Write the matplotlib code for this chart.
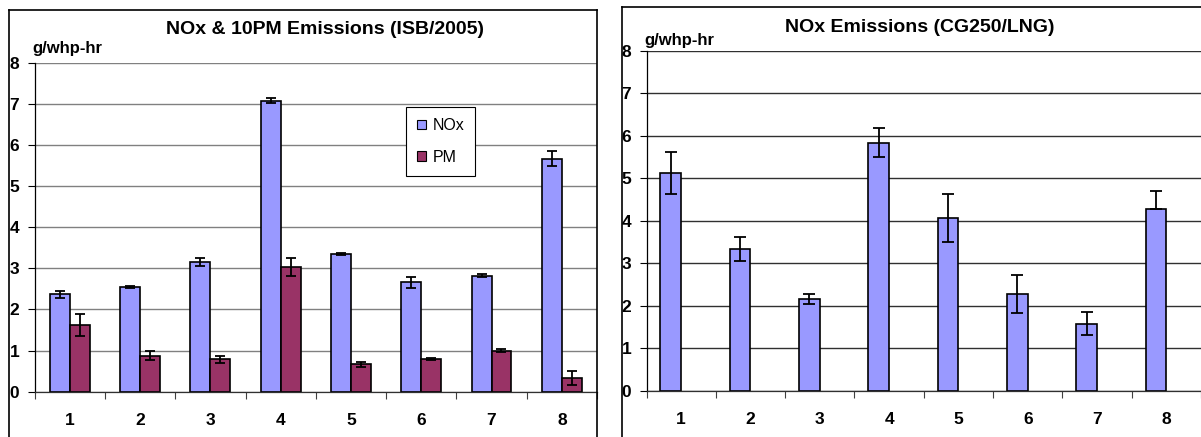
import matplotlib
matplotlib.use('Agg')
import matplotlib.pyplot as plt
from matplotlib.lines import Line2D
import numpy as np

plt.rcParams['font.family'] = ['Liberation Sans', 'DejaVu Sans']

# left chart: ISB/2005
cats = [1, 2, 3, 4, 5, 6, 7, 8]
nox_isb = [2.37, 2.54, 3.15, 7.08, 3.35, 2.66, 2.82, 5.67]
nox_isb_err = [0.08, 0.02, 0.09, 0.06, 0.02, 0.13, 0.04, 0.18]
pm_isb = [1.62, 0.88, 0.79, 3.03, 0.67, 0.80, 1.00, 0.33]
pm_isb_err = [0.27, 0.11, 0.08, 0.22, 0.06, 0.02, 0.03, 0.17]

# right chart: CG250/LNG
nox_cg = [5.12, 3.34, 2.17, 5.84, 4.07, 2.29, 1.58, 4.27]
nox_cg_err_lo = [0.50, 0.28, 0.12, 0.33, 0.57, 0.45, 0.26, 0.0]
nox_cg_err_hi = [0.51, 0.28, 0.12, 0.35, 0.57, 0.44, 0.27, 0.44]

yticks = [0, 1, 2, 3, 4, 5, 6, 7, 8]

c_nox = '#9999FF'
c_pm = '#993366'

W, H = 1201, 437
fig = plt.figure(figsize=(W / 100, H / 100), dpi=100)


def px(x0, y0, x1, y1):
    # pixel box -> figure fraction rect
    return [x0 / W, 1 - y1 / H, (x1 - x0) / W, (y1 - y0) / H]


def style_axes(ax, gridcol):
    ax.set_xlim(0.5, 8.5)
    ax.set_ylim(0, 8)
    ax.set_yticks(yticks)
    ax.set_xticks(cats)
    ax.set_xticks(np.arange(0.5, 8.6, 1), minor=True)
    ax.tick_params(axis='x', which='major', length=0, pad=15, labelsize=12.5)
    ax.tick_params(axis='x', which='minor', length=5, width=0.8, direction='out', color='#404040')
    ax.tick_params(axis='y', length=5, width=0.8, pad=6, labelsize=12.5)
    for lab in ax.get_xticklabels() + ax.get_yticklabels():
        lab.set_fontweight('bold')
    for s in ['top', 'right']:
        ax.spines[s].set_visible(False)
    ax.spines['left'].set_linewidth(0.9)
    ax.spines['bottom'].set_linewidth(0.9)
    ax.spines['bottom'].set_color('#303030')
    ax.yaxis.grid(True, color=gridcol, linewidth=1.0)
    ax.set_axisbelow(True)
    ax.patch.set_alpha(0)


# frames
fig.add_artist(Line2D([8.5 / W, 8.5 / W], [0, 1 - 10 / H], color='black', lw=1.2))
fig.add_artist(Line2D([8.5 / W, 597 / W], [1 - 10 / H, 1 - 10 / H], color='black', lw=1.2))
fig.add_artist(Line2D([597 / W, 597 / W], [0, 1 - 10 / H], color='black', lw=1.2))
fig.add_artist(Line2D([621.5 / W, 621.5 / W], [0, 1 - 7.3 / H], color='black', lw=1.2))
fig.add_artist(Line2D([621.5 / W, 1], [1 - 7.3 / H, 1 - 7.3 / H], color='black', lw=1.2))

# left panel
ax1 = fig.add_axes(px(34.6, 62.7, 597, 391.7))
style_axes(ax1, '#808080')
x = np.array(cats)
bw = 0.283
ax1.bar(x - bw / 2, nox_isb, bw, color=c_nox, edgecolor='black', linewidth=1.2, label='NOx', zorder=2)
ax1.bar(x + bw / 2, pm_isb, bw, color=c_pm, edgecolor='black', linewidth=1.2, label='PM', zorder=2)
ax1.errorbar(x - bw / 2, nox_isb, yerr=nox_isb_err, fmt='none', ecolor='black', elinewidth=1.3, capsize=3.6, capthick=1.3, zorder=3)
ax1.errorbar(x + bw / 2, pm_isb, yerr=pm_isb_err, fmt='none', ecolor='black', elinewidth=1.3, capsize=3.6, capthick=1.3, zorder=3)
leg = ax1.legend(loc='upper left', bbox_to_anchor=(406 / W, 1 - 107 / H), bbox_transform=fig.transFigure,
                 borderaxespad=0, fancybox=False, framealpha=1, edgecolor='black', fontsize=11.5,
                 handlelength=0.55, handleheight=0.55, handletextpad=0.4, labelspacing=1.05,
                 borderpad=0.7)
leg.get_frame().set_linewidth(0.8)
for h in leg.legend_handles:
    h.set_linewidth(0.8)

fig.text(325 / W, 1 - 29 / H, 'NOx & 10PM Emissions (ISB/2005)', ha='center', va='center',
         fontsize=14, fontweight='bold')
fig.text(32 / W, 1 - 48 / H, 'g/whp-hr', ha='left', va='center', fontsize=12, fontweight='bold')

# right panel
ax2 = fig.add_axes(px(646.5, 50.7, 1201, 391))
style_axes(ax2, '#303030')
bw2 = 0.30
ax2.bar(x - bw2 / 2, nox_cg, bw2, color=c_nox, edgecolor='black', linewidth=1.2, zorder=2)
ax2.errorbar(x - bw2 / 2, nox_cg, yerr=[nox_cg_err_lo, nox_cg_err_hi], fmt='none', ecolor='black',
             elinewidth=1.3, capsize=4, capthick=1.3, zorder=3)

fig.text(920 / W, 1 - 27 / H, 'NOx Emissions (CG250/LNG)', ha='center', va='center',
         fontsize=14, fontweight='bold')
fig.text(644 / W, 1 - 40 / H, 'g/whp-hr', ha='left', va='center', fontsize=12, fontweight='bold')

fig.savefig('out.png', dpi=100)
